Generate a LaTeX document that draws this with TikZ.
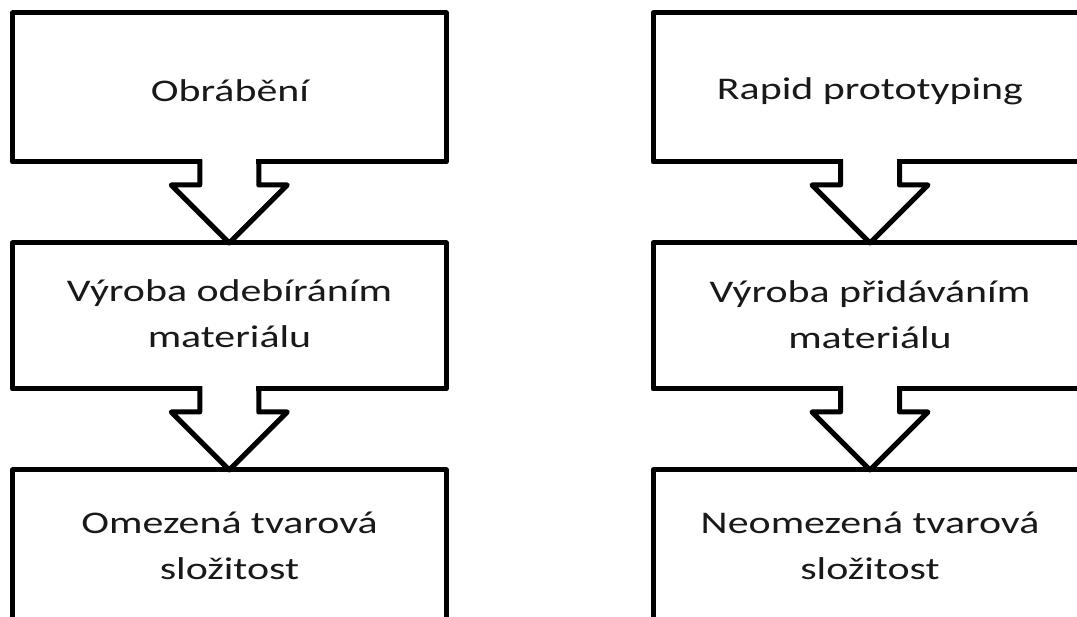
\documentclass[tikz,border=0pt]{standalone}
\usepackage{fontspec}
\setmainfont{Carlito}[FakeStretch=1.33]
\usetikzlibrary{calc}
\tikzset{
  box/.style={draw=black, line width=5pt, line join=round, inner sep=0pt, outer sep=0pt, fill=white},
  conn/.style={draw=black, line width=5pt, line join=round},
  label/.style={anchor=base, align=center, inner sep=0pt, font=\fontsize{31.5}{46}\selectfont, text=black!90},
}
\begin{document}
\begin{tikzpicture}[x=1pt, y=1pt]
\useasboundingbox (0,0) rectangle (1077,617);
\clip (0,0) rectangle (1077,617);
\fill[white] (0,0) rectangle (1077,617);

% left column
\node[box, minimum width=433.5, minimum height=149] (l1) at (229.25,529.5) {};
\node[box, minimum width=433.5, minimum height=146] (l2) at (229.25,301) {};
\node[box, minimum width=433.5, minimum height=177] (l3) at (229.25,58.5) {};
% right column
\node[box, minimum width=434, minimum height=149] (r1) at (870,529.5) {};
\node[box, minimum width=434, minimum height=146] (r2) at (870,301) {};
\node[box, minimum width=434, minimum height=177] (r3) at (870,58.5) {};

% block-arrow connectors
\foreach \a/\b in {l1/l2, l2/l3, r1/r2, r2/r3}{
  \fill[white] ($(\a.south)+(-27,3)$) rectangle ($(\a.south)+(27,-3)$);
  \draw[conn] ($(\a.south)+(-29.5,2.5)$) -- ++(0,-25.5) -- ++(-28.5,0) -- (\b.north)
     -- ($(\a.south)+(58,-23)$) -- ++(-28.5,0) -- ++(0,25.5);
}

% texts (base anchor = baseline of the last line)
\node[label] (t1) at (230,515) {Obrábění};
\node[label] (t2) at (229.5,269) {Výroba odebíráním\\materiálu};
\node[label] (t3) at (229.5,37) {Omezená tvarová\\složitost};
\node[label] (t4) at (870,517) {Rapid prototyping};
\node[label] (t5) at (870,268) {Výroba přidáváním\\materiálu};
\node[label] (t6) at (870,37) {Neomezená tvarová\\složitost};
\end{tikzpicture}
\end{document}
